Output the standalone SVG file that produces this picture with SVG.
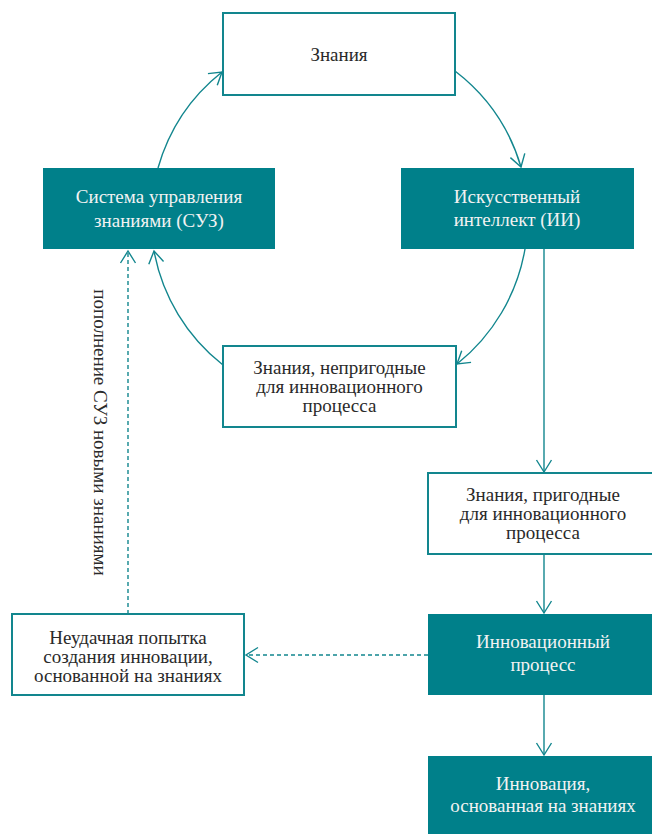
<svg xmlns="http://www.w3.org/2000/svg" width="652" height="834" viewBox="0 0 652 834">
<style>
.bw{fill:#fff;stroke:#12868e;stroke-width:2}
.bf{fill:#00808a;stroke:none}
.t{font-family:"Liberation Serif","Times New Roman","DejaVu Serif",serif;font-size:19px;text-anchor:middle}
.td{fill:#2a2a2a}
.tl{fill:#f2f2f2}
.c{fill:none;stroke:#12868e;stroke-width:1.4}
.dash{stroke-dasharray:4 3}
</style>
<defs>
<marker id="a" markerUnits="userSpaceOnUse" markerWidth="16" markerHeight="18" viewBox="0 0 16 18" refX="13" refY="9" orient="auto">
<path d="M1,1.5 L13,9 L1,16.5" fill="none" stroke="#12868e" stroke-width="1.4"/>
</marker>
</defs>
<rect width="652" height="834" fill="#fff"/>
<g id="connectors">
<path class="c" d="M158,168 A188,188 0 0,1 222,72" marker-end="url(#a)"/>
<path class="c" d="M455,71 A188,188 0 0,1 521,167" marker-end="url(#a)"/>
<path class="c" d="M525,249 A188,188 0 0,1 457,364" marker-end="url(#a)"/>
<path class="c" d="M223,365 A188,188 0 0,1 154,251" marker-end="url(#a)"/>
<path class="c" d="M544,249 L544,472" marker-end="url(#a)"/>
<path class="c" d="M544,554 L544,613" marker-end="url(#a)"/>
<path class="c" d="M544,695 L544,755" marker-end="url(#a)"/>
<path class="c dash" d="M428,655 L246,655" marker-end="url(#a)"/>
<path class="c dash" d="M128,614 L128,251" marker-end="url(#a)"/>
<text class="t td" transform="translate(94,432.5) rotate(90)">пополнение СУЗ новыми знаниями</text>
</g>
<g id="n-knowledge">
<rect class="bw" x="223" y="13" width="232" height="82"/>
<text class="t td" x="339" y="61">Знания</text>
</g>
<g id="n-kms">
<rect class="bf" x="43" y="168" width="232" height="81"/>
<text class="t tl" x="159" y="203">Система управления</text>
<text class="t tl" x="159" y="227">знаниями (СУЗ)</text>
</g>
<g id="n-ai">
<rect class="bf" x="401" y="168" width="233" height="81"/>
<text class="t tl" x="517" y="203">Искусственный</text>
<text class="t tl" x="517" y="226">интеллект (ИИ)</text>
</g>
<g id="n-unfit">
<rect class="bw" x="223" y="346" width="233" height="81"/>
<text class="t td" x="339.5" y="374">Знания, непригодные</text>
<text class="t td" x="339.5" y="393">для инновационного</text>
<text class="t td" x="339.5" y="412">процесса</text>
</g>
<g id="n-fit">
<rect class="bw" x="428" y="473" width="232" height="81"/>
<text class="t td" x="543" y="501">Знания, пригодные</text>
<text class="t td" x="543" y="520">для инновационного</text>
<text class="t td" x="543" y="539">процесса</text>
</g>
<g id="n-process">
<rect class="bf" x="428" y="614" width="232" height="81"/>
<text class="t tl" x="543" y="648">Инновационный</text>
<text class="t tl" x="543" y="670.5">процесс</text>
</g>
<g id="n-innovation">
<rect class="bf" x="428" y="756" width="232" height="90"/>
<text class="t tl" x="543" y="790">Инновация,</text>
<text class="t tl" x="543" y="812">основанная на знаниях</text>
</g>
<g id="n-fail">
<rect class="bw" x="12" y="614" width="232" height="81"/>
<text class="t td" x="128" y="644">Неудачная попытка</text>
<text class="t td" x="128" y="663">создания инновации,</text>
<text class="t td" x="128" y="682">основанной на знаниях</text>
</g>
</svg>
